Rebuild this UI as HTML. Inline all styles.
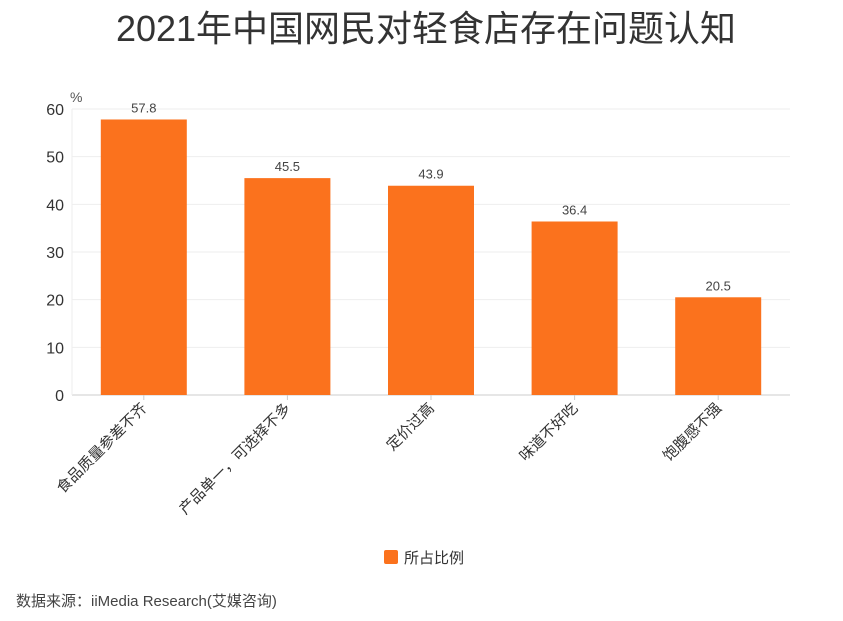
<!DOCTYPE html>
<html><head><meta charset="utf-8"><style>
body{margin:0;background:#fff;width:843px;height:616px;overflow:hidden}
svg{font-family:"Liberation Sans","Noto Sans CJK SC",sans-serif}
</style></head><body>
<svg id="c" width="843" height="616">
<text x="426" y="41" text-anchor="middle" font-size="36" fill="#333">2021年中国网民对轻食店存在问题认知</text>
<text x="70" y="102" font-size="14" fill="#555">%</text>
<g id="grid"></g><g id="bars"></g><g id="xl"></g>
<rect x="384" y="550" width="14" height="14" rx="2" fill="#fb721d"/>
<text x="404" y="563" font-size="15" fill="#333">所占比例</text>
<text x="16" y="606" font-size="15" fill="#444">数据来源：iiMedia Research(艾媒咨询)</text>
</svg>
<script>
const categories=["食品质量参差不齐","产品单一，可选择不多","定价过高","味道不好吃","饱腹感不强"];
const values=[57.8,45.5,43.9,36.4,20.5];
const yTicks=[0,10,20,30,40,50,60];
const NS="http://www.w3.org/2000/svg";
const x0=72,x1=790,yb=395,yt=109,ymax=60;
const y=v=>yb-(yb-yt)*v/ymax;
const bw=(x1-x0)/categories.length;
const cx=i=>x0+bw*(i+0.5);
function mk(t,a,p){const e=document.createElementNS(NS,t);for(const k in a)e.setAttribute(k,a[k]);p.appendChild(e);return e;}
const g=document.getElementById('grid'),b=document.getElementById('bars'),xl=document.getElementById('xl');
yTicks.forEach(v=>{
 const l=mk('line',{x1:x0,x2:x1,y1:y(v),y2:y(v),stroke:v===0?'#ccc':'#eee'},g);
 
 
 const t=mk('text',{x:64,y:y(v)+6,'text-anchor':'end','font-size':16,fill:'#333'},g);
 t.textContent=v;
 
 
});
const ax=mk('line',{x1:x0,x2:x0,y1:yt,y2:yb,stroke:'#eee'},g);


categories.forEach((c,i)=>{
 const r=mk('rect',{x:cx(i)-43,y:y(values[i]),width:86,height:yb-y(values[i]),fill:'#fb721d'},b);
 
 
 const v=mk('text',{x:cx(i),y:y(values[i])-7,'text-anchor':'middle','font-size':13,fill:'#444'},b);
 v.textContent=values[i];
 
 
 const tk=mk('line',{x1:cx(i),x2:cx(i),y1:yb,y2:yb+5,stroke:'#ccc'},xl);
 
 
 const t=mk('text',{x:cx(i)+4,y:yb+14,'text-anchor':'end','font-size':15,fill:'#333',transform:`rotate(-45 ${cx(i)+4} ${yb+14})`},xl);
 t.textContent=c;
 
 
});
</script>
</body></html>
